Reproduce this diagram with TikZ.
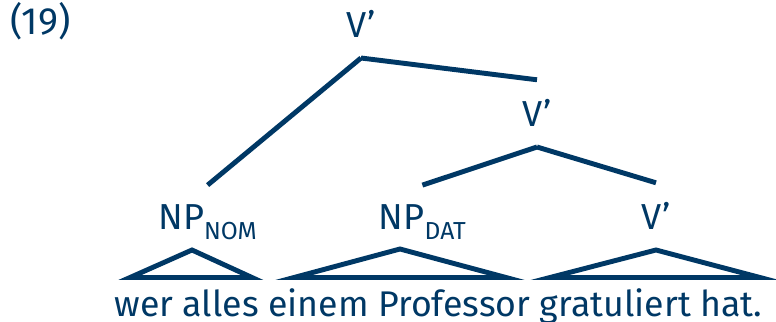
\documentclass[tikz,border=0pt]{standalone}
\usepackage{fontspec}
\setmainfont{Fira Sans}
\usetikzlibrary{positioning}
\definecolor{treeblue}{RGB}{0,56,101}

\begin{document}
\begin{tikzpicture}[
  cat/.style={font=\fontsize{25.7}{28}\selectfont, text=treeblue, inner sep=0pt, outer ysep=0.5cm, anchor=base},
  branch/.style={line width=3.5pt, draw=treeblue},
  tri/.style={line width=3.5pt, draw=treeblue, line join=miter}
]
  \useasboundingbox (0,0) rectangle (19.4,8.025);

  % Example number
  \node[font=\fontsize{27}{30}\selectfont, text=treeblue, anchor=base west, inner sep=0pt] (num) at (0.25,7.15) {(19)};

  % Categories
  \node[cat] (top) at (9.025,7.075) {V'};
  \node[cat] (mid) at (13.425,4.85) {V'};
  \node[cat] (nom) at (5.19,2.275) {NP\raisebox{-0.25cm}{\fontsize{17.5}{18}\selectfont NOM}};
  \node[cat] (dat) at (10.56,2.275) {NP\raisebox{-0.25cm}{\fontsize{17.5}{18}\selectfont DAT}};
  \node[cat] (low) at (16.4,2.275) {V'};

  % Branches
  \draw[branch] (top.south) -- (nom.north);
  \draw[branch] (top.south) -- (mid.north);
  \draw[branch] (mid.south) -- (dat.north);
  \draw[branch] (mid.south) -- (low.north);

  % Triangles
  \draw[tri] (4.8,1.775) -- (3.25,1.0875) -- (6.3,1.0875) -- cycle;
  \draw[tri] (10.0,1.8) -- (7.35,1.0875) -- (12.65,1.0875) -- cycle;
  \draw[tri] (16.4,1.775) -- (13.75,1.0875) -- (19.0,1.0875) -- cycle;

  % Sentence
  \node[font=\fontsize{25.4}{28}\selectfont, text=treeblue, anchor=base, inner sep=0pt] (sent) at (10.96,0.1) {wer alles einem Professor gratuliert hat.};
\end{tikzpicture}
\end{document}
